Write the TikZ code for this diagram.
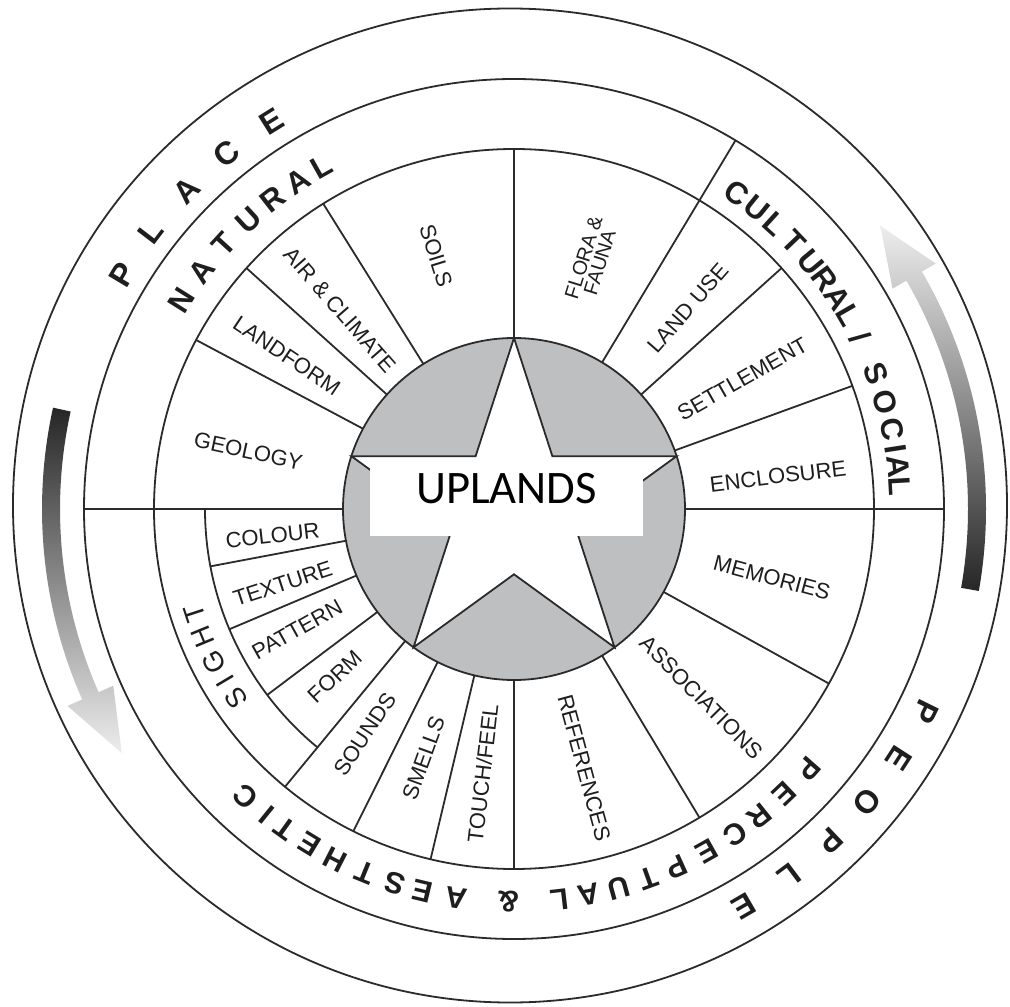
\documentclass[tikz,border=0pt]{standalone}
\usepackage{fontspec}
\setmainfont{Liberation Sans}
\newfontfamily\uplfont{Carlito}
\definecolor{ln}{HTML}{2B2B2B}
\definecolor{wheelgray}{RGB}{190,191,193}
\definecolor{txt}{HTML}{1E1E1E}
\tikzset{
  ln/.style={draw=ln, line width=0.9pt},
  item/.style={font=\fontsize{11}{12}\selectfont, text=txt, inner sep=0pt, text height=0.72em, text depth=0pt},
  itemtwo/.style={font=\fontsize{10}{8.5}\selectfont, text=txt, inner sep=0pt, align=center},
  ringbig/.style={font=\fontsize{16}{16}\selectfont\bfseries, text=txt, inner sep=0pt, text height=0.72em, text depth=0pt},
  ringmid/.style={font=\fontsize{15.5}{16}\selectfont\bfseries, text=txt, inner sep=0pt, text height=0.72em, text depth=0pt},
  ringsmall/.style={font=\fontsize{15}{16}\selectfont\bfseries, text=txt, inner sep=0pt, text height=0.72em, text depth=0pt},
  sightlbl/.style={font=\fontsize{14}{15}\selectfont, text=txt, inner sep=0pt, text height=0.72em, text depth=0pt},
  gradarrow/.style={draw=none}
}
\begin{document}
\begin{tikzpicture}[x=0.5pt,y=0.5pt]
\useasboundingbox (-514,-497) rectangle (496,509);
\fill[white] (-514,-497) rectangle (496,509);

% circles
\draw[ln] (-4,3.5) circle[radius=497];
\draw[ln] (0,0) circle[radius=430];
\draw[ln] (0,0) circle[radius=360];
\draw[ln] (180:309) arc[start angle=180, end angle=230.5, radius=309];

% gradient arrows
\shade[gradarrow, top color=black!85, bottom color=black!7]
  (167.6:472) arc[start angle=167.6, end angle=203.8, radius=472]
  -- (203.8:488) -- (211.9:462) -- (203.8:438) -- (203.8:454)
  arc[start angle=203.8, end angle=167.6, radius=454] -- cycle;
\shade[gradarrow, top color=black!7, bottom color=black!85]
  (350:454) arc[start angle=-10, end angle=30.2, radius=454]
  -- (30.2:438) -- (37.7:463) -- (30.2:488) -- (30.2:472)
  arc[start angle=30.2, end angle=-10, radius=472] -- cycle;

% radial dividers
\foreach \a in {20,42,90,122,138,152,230.5,243.5,256.6,270,301,331}
  \draw[ln] (\a:171) -- (\a:360);
\foreach \a in {0,59,180}
  \draw[ln] (\a:171) -- (\a:430);
\foreach \a in {190.7,202.9,217}
  \draw[ln] (\a:171) -- (\a:309);

% centre disc and star
\draw[ln, fill=wheelgray] (0,0) circle[radius=171];
\draw[ln, fill=white] (90:171) -- (126:65.3) -- (162:171) -- (198:65.3) -- (234:171)
  -- (270:65.3) -- (306:171) -- (342:65.3) -- (18:171) -- (54:65.3) -- cycle;

\node[fill=white, inner sep=0pt, minimum width=136.5pt, minimum height=39pt,
      font=\uplfont\fontsize{23.3}{24}\selectfont, text height=0.644em, text depth=0pt]
  (uplands) at (-7.5,12) {UPLANDS};

% item labels
\node[item, rotate=-12.2] (geo) at (167.8:272) {GEOLOGY};
\node[item, rotate=-33.9] (landform) at (146.1:274) {LANDFORM};
\node[item, rotate=-48.8] (air) at (131.2:264) {AIR \& CLIMATE};
\node[item, rotate=-72.8] (soils) at (107.2:265) {SOILS};
\node[itemtwo, rotate=72.7] (flora) at (72.7:261) {FLORA \&\\FAUNA};
\node[item, rotate=49] (landuse) at (49:266) {LAND USE};
\node[item, rotate=29.6] (settle) at (29.6:263) {SETTLEMENT};
\node[item, rotate=7] (encl) at (7:266) {ENCLOSURE};
\node[item, rotate=-15] (mem) at (345:267) {MEMORIES};
\node[item, rotate=-45.2] (assoc) at (314.8:266) {ASSOCIATIONS};
\node[item, rotate=-74.9] (refs) at (285.1:268) {REFERENCES};
\node[item, rotate=83.4] (touch) at (263.4:266) {TOUCH/FEEL};
\node[item, rotate=70.1] (smell) at (250.1:265) {SMELLS};
\node[item, rotate=56.6] (sound) at (236.6:270) {SOUNDS};
\node[item, rotate=43.2] (form) at (223.2:245) {FORM};
\node[item, rotate=29.1] (patt) at (209.1:248) {PATTERN};
\node[item, rotate=18] (textu) at (198:243) {TEXTURE};
\node[item, rotate=6.4] (colour) at (186.4:243) {COLOUR};

% ring labels (tops outward, read clockwise)
\foreach \a/\c [count=\i] in {149.1/P,142.6/L,135.8/A,129.0/C,122.0/E}
  \node[ringbig, rotate=\a-90] (place\i) at (\a:453) {\c};
\foreach \a/\c [count=\i] in {333.8/P,327.1/E,320.3/O,313.6/P,306.8/L,300.1/E}
  \node[ringbig, rotate=\a-90] (people\i) at (\a:455) {\c};
\foreach \a/\c [count=\i] in {147.8/N,142.6/A,137.6/T,132.6/U,127.9/R,123.4/A,119.3/L}
  \node[ringmid, rotate=\a-90] (natural\i) at (\a:389) {\c};
\foreach \a/\c [count=\i] in {54.8/C,51.0/U,47.6/L,43.7/T,39.7/U,36.5/R,33.1/A,30.0/L,26.3/\slash,20.5/S,16.0/O,11.9/C,8.9/I,6.3/A,3.3/L}
  \node[ringmid, rotate=\a-90] (cultural\i) at (\a:383) {\c};
\foreach \a/\c [count=\i] in {318.6/P,313.5/E,308.6/R,304.2/C,299.3/E,294.4/P,290.0/T,285.4/U,280.9/A,276.6/L,269.2/\&,261.5/A,256.5/E,252.4/S,247.8/T,243.0/H,238.6/E,234.3/T,231.0/I,227.0/C}
  \node[ringsmall, rotate=\a-90] (percep\i) at (\a:390) {\c};
\foreach \a/\c [count=\i] in {214.3/S,210.8/I,207.0/G,202.4/H,198.1/T}
  \node[sightlbl, rotate=\a-90] (sight\i) at (\a:334) {\c};
\end{tikzpicture}
\end{document}
